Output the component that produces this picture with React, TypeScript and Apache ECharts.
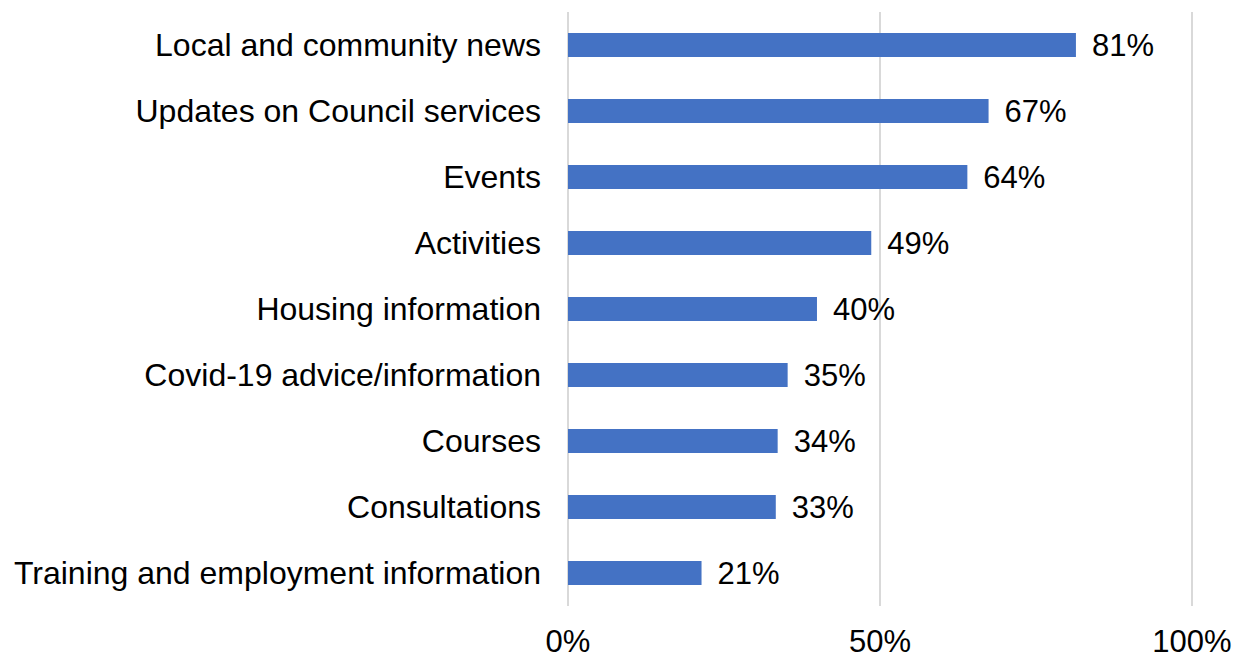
import React, { useEffect, useRef } from "react";
import * as echarts from "echarts";

const categories = [
  "Local and community news",
  "Updates on Council services",
  "Events",
  "Activities",
  "Housing information",
  "Covid-19 advice/information",
  "Courses",
  "Consultations",
  "Training and employment information",
];
const values = [81.4, 67.4, 64.0, 48.6, 39.9, 35.2, 33.6, 33.3, 21.4];
const xTicks = [0, 50, 100];

export default function App() {
  const ref = useRef<HTMLDivElement>(null);
  useEffect(() => {
    if (!ref.current) return;
    const chart = echarts.init(ref.current, null, { renderer: "svg" });
    const font = "Arial, 'Liberation Sans', Helvetica, sans-serif";
    chart.setOption({
      animation: false,
      backgroundColor: "#ffffff",
      grid: { left: 568, right: 44, top: 12, bottom: 52, containLabel: false },
      xAxis: {
        type: "value",
        min: xTicks[0],
        max: xTicks[xTicks.length - 1],
        interval: 50,
        axisLine: { show: false },
        axisTick: { show: false },
        splitLine: { show: true, lineStyle: { color: "#d9d9d9", width: 2 } },
        axisLabel: {
          formatter: (v: number) => `${v}%`,
          fontFamily: font,
          fontSize: 31,
          color: "#000",
          margin: 20,
        },
      },
      yAxis: {
        type: "category",
        inverse: true,
        data: categories,
        axisLine: { show: false },
        axisTick: { show: false },
        axisLabel: {
          fontFamily: font,
          fontSize: 32,
          color: "#000",
          margin: 27,
          padding: [4, 0, 0, 0],
        },
      },
      series: [
        {
          type: "bar",
          data: values,
          barWidth: 24,
          itemStyle: { color: "#4472C4" },
          label: {
            show: true,
            position: "right",
            distance: 16,
            padding: [4, 0, 0, 0],
            formatter: (p: any) => `${Math.round(p.value)}%`,
            fontFamily: font,
            fontSize: 31,
            color: "#000",
          },
        },
      ],
    });
    return () => chart.dispose();
  }, []);
  return (
    <div
      ref={ref}
      style={{ position: "fixed", left: 0, top: 0, width: 1236, height: 658 }}
    />
  );
}
